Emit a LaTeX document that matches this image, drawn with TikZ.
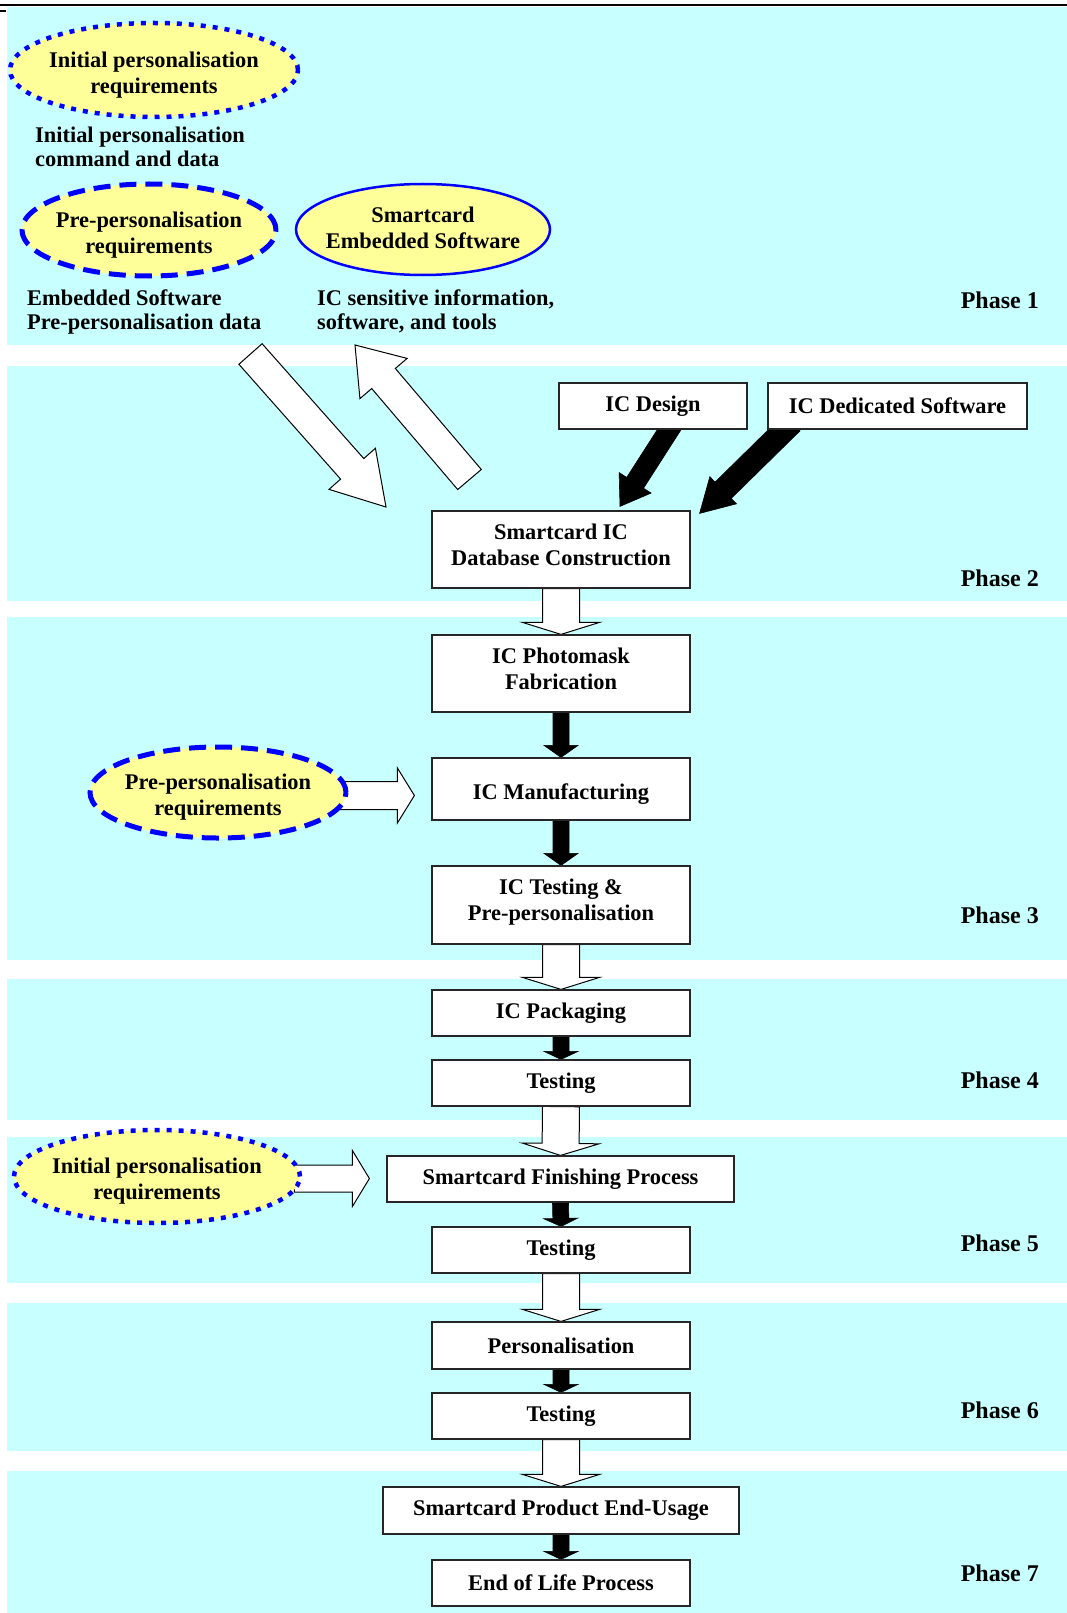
\documentclass[tikz,border=0pt]{standalone}
\usepackage{fontspec}
\setmainfont{Liberation Serif}
\usetikzlibrary{shapes.geometric,calc}

\definecolor{bandcyan}{HTML}{C8FFFF}
\definecolor{reqyellow}{HTML}{FFFF99}
\definecolor{reqblue}{HTML}{0000FF}

\pgfdeclarelayer{back}
\pgfdeclarelayer{mid}
\pgfsetlayers{back,mid,main}

% 文字上下位置微调用的隐形支柱
\newcommand{\topgap}{\rule{0pt}{25pt}}
\newcommand{\botgap}[1]{\rule[-#1pt]{0pt}{0pt}}

% 粗箭头：#1 样式, #2 尾, #3 尖, #4 杆半宽, #5 头半宽, #6 头长
\newcommand{\blockarrow}[6]{%
  \coordinate (bajoin) at ($(#3)!#6!(#2)$);
  \draw[#1] ($(#2)!#4!90:(#3)$) -- ($(bajoin)!#4!90:(#3)$)
    -- ($(bajoin)!#5!90:(#3)$) -- (#3)
    -- ($(bajoin)!#5!-90:(#3)$) -- ($(bajoin)!#4!-90:(#3)$)
    -- ($(#2)!#4!-90:(#3)$) -- cycle;}

\begin{document}
\begin{tikzpicture}[x=1pt,y=-1pt,
    every node/.style={font={\bfseries\fontsize{22.4}{26}\selectfont}},
    procbox/.style={draw=black!85, fill=white, line width=1.2pt,
      minimum width=258pt, minimum height=46pt, align=center, inner sep=0pt},
    reqell/.style={ellipse, fill=reqyellow, draw=reqblue, align=center, inner sep=-20pt},
    dotreq/.style={reqell, line width=4.5pt, dash pattern=on 5pt off 7pt},
    dashreq/.style={reqell, line width=5pt, dash pattern=on 17pt off 9pt},
    solidreq/.style={reqell, line width=2.5pt},
    plaintext/.style={anchor=west, align=left, inner sep=0pt,
      font={\bfseries\fontsize{22.4}{24}\selectfont}},
    phaselabel/.style={anchor=east, inner sep=0pt,
      font={\bfseries\fontsize{24}{28}\selectfont}},
    hollowarr/.style={draw=black, fill=white, line width=1pt},
    solidarr/.style={draw=black, fill=black, line width=0.6pt}]

\useasboundingbox (0,0) rectangle (1067,1613);

% ==== 背景色带 ====
\begin{pgfonlayer}{back}
\fill[bandcyan] (7,7)    rectangle (1067,345);
\fill[bandcyan] (7,366)  rectangle (1067,601);
\fill[bandcyan] (7,617)  rectangle (1067,960);
\fill[bandcyan] (7,979)  rectangle (1067,1120);
\fill[bandcyan] (7,1137) rectangle (1067,1283);
\fill[bandcyan] (7,1303) rectangle (1067,1451);
\fill[bandcyan] (7,1471) rectangle (1067,1613);
\end{pgfonlayer}

% 顶部细线
\draw[line width=1.2pt] (0,5) -- (1067,5);
\draw[line width=2pt] (0,11) -- (6,11);

% ==== Phase 1 ====
\node[dotreq, minimum width=288pt, minimum height=94pt] (ipr1) at (154,70)
  {\topgap Initial personalisation\\requirements};
\node[plaintext] (ipcd) at (35,146.5) {Initial personalisation\\command and data};
\node[dashreq, minimum width=254pt, minimum height=92pt] (ppr1) at (149,230)
  {\topgap Pre-personalisation\\requirements};
\node[solidreq, minimum width=254pt, minimum height=91pt] (sesw) at (423,229.5)
  {Smartcard\\Embedded Software\botgap{4}};
\node[plaintext] (esppd) at (27,311.5) {Embedded Software\\Pre-personalisation data};
\node[plaintext] (icsi) at (317,311.5) {IC sensitive information,\\software, and tools};

% ==== Phase 2 ====
\node[procbox, minimum width=188pt] (icdes) at (653,406) {IC Design};
\node[procbox, minimum width=259pt] (icdsw) at (897.5,406) {IC Dedicated Software};
\node[procbox, minimum height=77pt] (dbc) at (561,549.5) {Smartcard IC\\Database Construction\botgap{10}};

% ==== Phase 3 ====
\node[procbox, minimum height=77pt] (photo) at (561,673.5) {IC Photomask\\Fabrication\botgap{10}};
\node[procbox, minimum height=62pt] (manu) at (561,789) {\topgap IC Manufacturing};
\node[procbox, minimum height=78pt] (ictest) at (561,905) {IC Testing \&\\Pre-personalisation\botgap{10}};
\node[dashreq, minimum width=256pt, minimum height=91pt] (ppr3) at (218,792.5)
  {\topgap Pre-personalisation\\requirements};

% ==== Phase 4 ====
\node[procbox] (pack) at (561,1013) {IC Packaging};
\node[procbox] (test4) at (561,1083) {Testing};

% ==== Phase 5 ====
\node[procbox, minimum width=347pt] (fin) at (560.5,1179) {Smartcard Finishing Process};
\node[procbox] (test5) at (561,1250) {Testing};
\node[dotreq, minimum width=286pt, minimum height=93pt] (ipr5) at (157,1176.5)
  {\topgap Initial personalisation\\requirements};

% ==== Phase 6 ====
\node[procbox, minimum height=47pt] (pers) at (561,1345.5) {Personalisation};
\node[procbox] (test6) at (561,1416) {Testing};

% ==== Phase 7 ====
\node[procbox, minimum width=356pt, minimum height=47pt] (enduse) at (561,1510.5) {Smartcard Product End-Usage};
\node[procbox] (eol) at (561,1583) {End of Life Process};

% 阶段标签
\node[phaselabel] (ph1) at (1039,300)  {Phase 1};
\node[phaselabel] (ph2) at (1039,578)  {Phase 2};
\node[phaselabel] (ph3) at (1039,915)  {Phase 3};
\node[phaselabel] (ph4) at (1039,1080) {Phase 4};
\node[phaselabel] (ph5) at (1039,1243) {Phase 5};
\node[phaselabel] (ph6) at (1039,1410) {Phase 6};
\node[phaselabel] (ph7) at (1039,1573) {Phase 7};

% ==== 箭头（放在方框下面一层）====
\begin{pgfonlayer}{mid}
% Phase 1 <-> Phase 2 的斜箭头
\coordinate (dntail) at (250.5,354);
\coordinate (dntip)  at (386,507);
\coordinate (uptail) at (469.5,479.5);
\coordinate (uptip)  at (355,345);
\blockarrow{hollowarr}{dntail}{dntip}{15.5pt}{31pt}{51pt}
\blockarrow{hollowarr}{uptail}{uptip}{15.5pt}{31pt}{44pt}

% IC Design / IC Dedicated Software -> 数据库
\path (icdes.south) ++(22,-9) coordinate (dsgtail);
\path (dbc.north) ++(59,-4) coordinate (dsgtip);
\path (icdsw.south) ++(-105.5,-7) coordinate (dswtail);
\path (dbc.north east) ++(9,3) coordinate (dswtip);
\blockarrow{solidarr}{dsgtail}{dsgtip}{10pt}{19pt}{28pt}
\blockarrow{solidarr}{dswtail}{dswtip}{11.5pt}{19pt}{33pt}

% 主流程
\blockarrow{hollowarr}{dbc.south}{photo.north}{18.5pt}{38.5pt}{12pt}
\blockarrow{solidarr}{photo.south}{manu.north}{8pt}{17pt}{12pt}
\blockarrow{solidarr}{manu.south}{ictest.north}{8pt}{17pt}{12pt}
\blockarrow{hollowarr}{ictest.south}{pack.north}{18.5pt}{38.5pt}{12pt}
\blockarrow{solidarr}{pack.south}{test4.north}{8pt}{17pt}{8pt}
\blockarrow{hollowarr}{test4.south}{fin.north}{18.5pt}{38.5pt}{12pt}
\blockarrow{solidarr}{fin.south}{test5.north}{8pt}{17pt}{8pt}
\blockarrow{hollowarr}{test5.south}{pers.north}{18.5pt}{38.5pt}{12pt}
\blockarrow{solidarr}{pers.south}{test6.north}{8pt}{17pt}{8pt}
\blockarrow{hollowarr}{test6.south}{enduse.north}{18.5pt}{38.5pt}{12pt}
\blockarrow{solidarr}{enduse.south}{eol.north}{8pt}{17pt}{8pt}

% 需求椭圆 -> 方框
\path (ppr3.east) ++(-8,3) coordinate (ppr3tail);
\path (manu.west |- ppr3.east) ++(-17,3) coordinate (ppr3tip);
\path (ipr5.east) ++(-8,2) coordinate (ipr5tail);
\path (fin.west |- ipr5.east) ++(-17,2) coordinate (ipr5tip);
\blockarrow{hollowarr}{ppr3tail}{ppr3tip}{14pt}{27.5pt}{17pt}
\blockarrow{hollowarr}{ipr5tail}{ipr5tip}{13.5pt}{28pt}{17pt}
\end{pgfonlayer}

\end{tikzpicture}
\end{document}
